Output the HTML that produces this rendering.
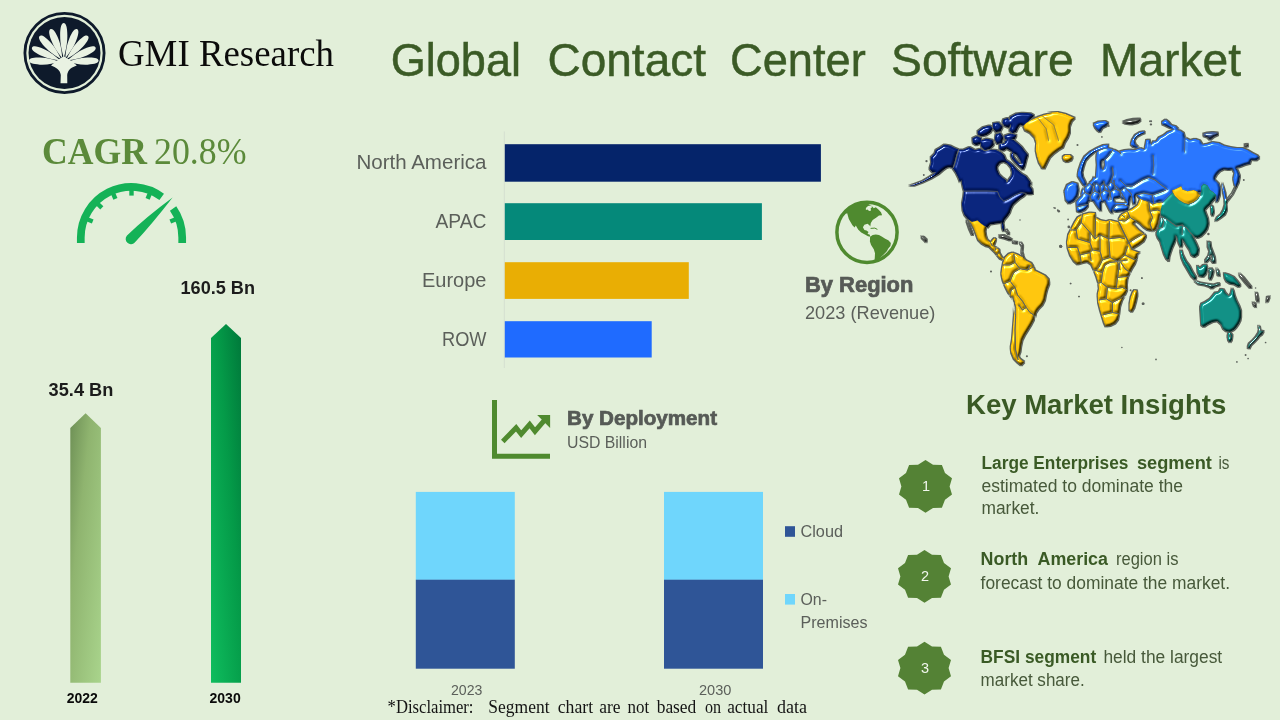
<!DOCTYPE html>
<html lang="en"><head><meta charset="utf-8"><title>Global Contact Center Software Market</title>
<style>
html,body{margin:0;padding:0;background:#e2efd9;}
body{width:1280px;height:720px;overflow:hidden;position:relative;}
svg{position:absolute;left:0;top:0;display:block;}
text{white-space:pre;}
</style></head><body>
<svg width="1280" height="720" viewBox="0 0 1280 720">
<defs>
<linearGradient id="g22" x1="0" y1="0" x2="1" y2="1" gradientUnits="objectBoundingBox">
<stop offset="0" stop-color="#6d8f55"/><stop offset="0.35" stop-color="#8fb46f"/><stop offset="1" stop-color="#a9d48c"/></linearGradient>
<linearGradient id="g30" x1="1" y1="0" x2="0" y2="1" gradientUnits="objectBoundingBox">
<stop offset="0" stop-color="#00783a"/><stop offset="0.4" stop-color="#049a48"/><stop offset="1" stop-color="#0fbd5e"/></linearGradient>
</defs>
<rect width="1280" height="720" fill="#e2efd9"/>

<g id="logo"><circle cx="64.5" cy="53" r="39.6" fill="none" stroke="#0e1a2b" stroke-width="2.8"/>
<circle cx="64.5" cy="53" r="36" fill="#0e1a2b"/>
<path d="M4.0,0 C11.7,-1.98 17.6,-3.6 26.5,-3.6 C35.1,-3.6 39.0,-2.16 39.0,0 C39.0,2.16 35.1,3.6 26.5,3.6 C17.6,3.6 11.7,1.98 4.0,0 Z" fill="#e9f2e2" transform="translate(63.8,62.0) rotate(-90.1)"/>
<path d="M4.0,0 C10.7,-1.98 16.0,-3.6 24.2,-3.6 C32.0,-3.6 35.5,-2.16 35.5,0 C35.5,2.16 32.0,3.6 24.2,3.6 C16.0,3.6 10.7,1.98 4.0,0 Z" fill="#e9f2e2" transform="translate(63.8,62.0) rotate(-68.2)"/>
<path d="M4.0,0 C10.7,-1.98 16.0,-3.6 24.2,-3.6 C32.0,-3.6 35.5,-2.16 35.5,0 C35.5,2.16 32.0,3.6 24.2,3.6 C16.0,3.6 10.7,1.98 4.0,0 Z" fill="#e9f2e2" transform="translate(63.8,62.0) rotate(-47.1)"/>
<path d="M4.0,0 C10.5,-1.98 15.7,-3.6 23.7,-3.6 C31.4,-3.6 34.9,-2.16 34.9,0 C34.9,2.16 31.4,3.6 23.7,3.6 C15.7,3.6 10.5,1.98 4.0,0 Z" fill="#e9f2e2" transform="translate(63.8,62.0) rotate(-24.4)"/>
<path d="M4.0,0 C10.4,-1.98 15.7,-3.6 23.7,-3.6 C31.3,-3.6 34.8,-2.16 34.8,0 C34.8,2.16 31.3,3.6 23.7,3.6 C15.7,3.6 10.4,1.98 4.0,0 Z" fill="#e9f2e2" transform="translate(63.8,62.0) rotate(-2.3)"/>
<path d="M4.0,0 C10.7,-1.98 16.0,-3.6 24.2,-3.6 C32.0,-3.6 35.5,-2.16 35.5,0 C35.5,2.16 32.0,3.6 24.2,3.6 C16.0,3.6 10.7,1.98 4.0,0 Z" fill="#e9f2e2" transform="translate(63.8,62.0) rotate(-111.8)"/>
<path d="M4.0,0 C10.7,-1.98 16.0,-3.6 24.2,-3.6 C32.0,-3.6 35.5,-2.16 35.5,0 C35.5,2.16 32.0,3.6 24.2,3.6 C16.0,3.6 10.7,1.98 4.0,0 Z" fill="#e9f2e2" transform="translate(63.8,62.0) rotate(-132.9)"/>
<path d="M4.0,0 C10.5,-1.98 15.7,-3.6 23.7,-3.6 C31.4,-3.6 34.9,-2.16 34.9,0 C34.9,2.16 31.4,3.6 23.7,3.6 C15.7,3.6 10.5,1.98 4.0,0 Z" fill="#e9f2e2" transform="translate(63.8,62.0) rotate(-155.6)"/>
<path d="M4.0,0 C10.4,-1.98 15.7,-3.6 23.7,-3.6 C31.3,-3.6 34.8,-2.16 34.8,0 C34.8,2.16 31.3,3.6 23.7,3.6 C15.7,3.6 10.4,1.98 4.0,0 Z" fill="#e9f2e2" transform="translate(63.8,62.0) rotate(-177.7)"/>
<path d="M60.5,83.3 L60.8,74.9 C60.2,69.6 55.9,67.3 51.0,65.4 L55.9,61.2 L63.8,56.3 L71.9,61.2 L76.8,65.4 C71.9,67.0 67.8,69.6 67.2,74.9 L67.3,83.3 Z" fill="#e9f2e2"/>
</g>
<text x="118.0" y="66.0" textLength="216.0" lengthAdjust="spacingAndGlyphs" font-family="'Liberation Serif', 'Times New Roman', serif" font-size="38" font-weight="400" fill="#0b0b0b" >GMI Research</text>
<text x="390.7" y="76.0" textLength="130.3" lengthAdjust="spacingAndGlyphs" font-family="'Liberation Sans', Arial, sans-serif" font-size="46.5" font-weight="400" fill="#3b5b26" stroke="#3b5b26" stroke-width="0.5">Global</text>
<text x="547.5" y="76.0" textLength="158.5" lengthAdjust="spacingAndGlyphs" font-family="'Liberation Sans', Arial, sans-serif" font-size="46.5" font-weight="400" fill="#3b5b26" stroke="#3b5b26" stroke-width="0.5">Contact</text>
<text x="730.0" y="76.0" textLength="135.7" lengthAdjust="spacingAndGlyphs" font-family="'Liberation Sans', Arial, sans-serif" font-size="46.5" font-weight="400" fill="#3b5b26" stroke="#3b5b26" stroke-width="0.5">Center</text>
<text x="891.0" y="76.0" textLength="182.7" lengthAdjust="spacingAndGlyphs" font-family="'Liberation Sans', Arial, sans-serif" font-size="46.5" font-weight="400" fill="#3b5b26" stroke="#3b5b26" stroke-width="0.5">Software</text>
<text x="1100.0" y="76.0" textLength="141.0" lengthAdjust="spacingAndGlyphs" font-family="'Liberation Sans', Arial, sans-serif" font-size="46.5" font-weight="400" fill="#3b5b26" stroke="#3b5b26" stroke-width="0.5">Market</text>
<text x="42.0" y="163.7" textLength="105.0" lengthAdjust="spacingAndGlyphs" font-family="'Liberation Serif', 'Times New Roman', serif" font-size="38.5" font-weight="700" fill="#5b8a3a" >CAGR</text>
<text x="154.0" y="163.7" textLength="92.5" lengthAdjust="spacingAndGlyphs" font-family="'Liberation Serif', 'Times New Roman', serif" font-size="38.5" font-weight="400" fill="#5b8a3a" >20.8%</text>
<path d="M80.8,243 L80.8,237.6 A50.75,50.75 0 0 1 161.7,196.8" fill="none" stroke="#14b257" stroke-width="7.7"/>
<path d="M173.1,208.5 A50.75,50.75 0 0 1 182.2,237.6 L182.2,243" fill="none" stroke="#14b257" stroke-width="7.7"/>
<line x1="87.2" y1="219.2" x2="92.7" y2="221.5" stroke="#14b257" stroke-width="4.4"/>
<line x1="97.6" y1="203.7" x2="101.8" y2="207.9" stroke="#14b257" stroke-width="4.4"/>
<line x1="113.1" y1="193.3" x2="115.4" y2="198.8" stroke="#14b257" stroke-width="4.4"/>
<line x1="131.5" y1="189.6" x2="131.5" y2="195.6" stroke="#14b257" stroke-width="4.4"/>
<line x1="149.9" y1="193.3" x2="147.6" y2="198.8" stroke="#14b257" stroke-width="4.4"/>
<line x1="175.8" y1="219.2" x2="170.3" y2="221.5" stroke="#14b257" stroke-width="4.4"/>
<path d="M172.6,197.4 Q152,224 134.8,242.4 A5,5 0 0 1 127,235.4 Q146,217 172.6,197.4 Z" fill="#14b257"/>
<polygon points="70.3,428 85.6,413.3 100.9,428 100.9,682.7 70.3,682.7" fill="url(#g22)"/>
<polygon points="211,338 226,324 241,338 241,682.7 211,682.7" fill="url(#g30)"/>
<text x="48.6" y="396.0" textLength="64.7" lengthAdjust="spacingAndGlyphs" font-family="'Liberation Sans', Arial, sans-serif" font-size="18" font-weight="700" fill="#1c1c1c" >35.4 Bn</text>
<text x="180.5" y="294.2" textLength="74.5" lengthAdjust="spacingAndGlyphs" font-family="'Liberation Sans', Arial, sans-serif" font-size="18" font-weight="700" fill="#1c1c1c" >160.5 Bn</text>
<text x="66.7" y="703.0" textLength="31.1" lengthAdjust="spacingAndGlyphs" font-family="'Liberation Sans', Arial, sans-serif" font-size="14.5" font-weight="700" fill="#0a0a0a" >2022</text>
<text x="209.5" y="703.0" textLength="31.2" lengthAdjust="spacingAndGlyphs" font-family="'Liberation Sans', Arial, sans-serif" font-size="14.5" font-weight="700" fill="#0a0a0a" >2030</text>
<line x1="504.3" y1="131.5" x2="504.3" y2="368" stroke="#d5dfd0" stroke-width="1"/>
<rect x="504.8" y="144.2" width="316.1" height="37.5" fill="#05246a"/>
<rect x="504.8" y="203.2" width="257.1" height="36.8" fill="#05897a"/>
<rect x="504.8" y="262.2" width="184.0" height="36.7" fill="#e9ae04"/>
<rect x="504.8" y="321.2" width="146.9" height="36.3" fill="#1f6bff"/>
<text x="356.4" y="169.2" textLength="130.1" lengthAdjust="spacingAndGlyphs" font-family="'Liberation Sans', Arial, sans-serif" font-size="20.5" font-weight="400" fill="#5b5f5a" >North America</text>
<text x="435.5" y="228.2" textLength="51.0" lengthAdjust="spacingAndGlyphs" font-family="'Liberation Sans', Arial, sans-serif" font-size="20.5" font-weight="400" fill="#5b5f5a" >APAC</text>
<text x="422.0" y="287.0" textLength="64.5" lengthAdjust="spacingAndGlyphs" font-family="'Liberation Sans', Arial, sans-serif" font-size="20.5" font-weight="400" fill="#5b5f5a" >Europe</text>
<text x="442.0" y="346.0" textLength="44.5" lengthAdjust="spacingAndGlyphs" font-family="'Liberation Sans', Arial, sans-serif" font-size="20.5" font-weight="400" fill="#5b5f5a" >ROW</text>
<circle cx="867" cy="232.3" r="30.1" fill="none" stroke="#4f8a2f" stroke-width="3.5"/>
<clipPath id="gclip"><circle cx="867" cy="232.3" r="30"/></clipPath>
<g clip-path="url(#gclip)" fill="#4f8a2f">
<polygon points="845.6,213.8 845.6,201.2 865.9,201.2 865.9,202.5 871.7,205.9 873.8,208.3 875.8,207.3 878.4,209.4 881.0,212.2 882.1,215.3 879.0,215.5 876.4,217.4 872.7,220.0 870.8,223.1 870.3,226.5 869.4,225.2 867.5,223.8 864.4,224.8 862.9,227.3 864.4,229.9 866.5,230.4 868.5,232.1 867.5,234.1 869.6,234.6 870.4,236.7 868.0,236.2 864.9,234.6 861.2,232.5 858.1,229.4 855.8,225.4 854.6,227.5 852.4,225.2 848.8,219.0 847.2,213.2"/>
<polygon points="865.9,208.0 868.0,205.9 871.1,205.4 872.2,207.0 870.6,208.5 871.1,210.6 869.1,211.1 867.5,209.6 865.9,210.1" fill="#e2efd9"/>
<polyline points="870.6,228.4 874.8,228.1 877.4,229.4" fill="none" stroke="#4f8a2f" stroke-width="1"/>
<polygon points="870.1,236.7 872.7,235.1 875.8,234.4 879.0,235.1 882.1,236.7 885.2,238.8 888.3,240.3 890.9,242.9 890.4,246.0 888.3,248.6 886.8,251.2 884.2,253.9 881.6,256.5 879.0,259.1 876.4,261.7 874.3,262.7 874.8,257.5 875.0,253.3 873.8,249.2 871.1,245.0 869.9,241.4"/>
</g>
<text x="805.0" y="291.5" textLength="108.4" lengthAdjust="spacingAndGlyphs" font-family="'Liberation Sans', Arial, sans-serif" font-size="21.5" font-weight="700" fill="#565a56" stroke="#565a56" stroke-width="0.7">By Region</text>
<text x="805.0" y="318.7" textLength="130.4" lengthAdjust="spacingAndGlyphs" font-family="'Liberation Sans', Arial, sans-serif" font-size="18.5" font-weight="400" fill="#5b5f5a" >2023 (Revenue)</text>
<path d="M494.5,400 V456.2 H550" fill="none" stroke="#4f8a2f" stroke-width="5"/>
<path d="M502.8,441.4 L516.1,427.8 L521.2,434.2 L529.7,424.4 L535,431.2 L545,419.6" fill="none" stroke="#4f8a2f" stroke-width="5"/>
<polygon points="537.2,415 550.1,415 550.1,427.9" fill="#4f8a2f"/>
<text x="567.0" y="425.0" textLength="150.0" lengthAdjust="spacingAndGlyphs" font-family="'Liberation Sans', Arial, sans-serif" font-size="19.5" font-weight="700" fill="#565a56" stroke="#565a56" stroke-width="0.7">By Deployment</text>
<text x="567.0" y="448.0" textLength="80.0" lengthAdjust="spacingAndGlyphs" font-family="'Liberation Sans', Arial, sans-serif" font-size="16" font-weight="400" fill="#5b5f5a" >USD Billion</text>
<rect x="415.8" y="491.9" width="99" height="88" fill="#6fd6fc"/>
<rect x="415.8" y="579.7" width="99" height="89" fill="#2f5597"/>
<rect x="664" y="491.9" width="99" height="88" fill="#6fd6fc"/>
<rect x="664" y="579.7" width="99" height="89" fill="#2f5597"/>
<text x="451.0" y="694.7" textLength="31.4" lengthAdjust="spacingAndGlyphs" font-family="'Liberation Sans', Arial, sans-serif" font-size="14.5" font-weight="400" fill="#5b5f5a" >2023</text>
<text x="699.0" y="694.7" textLength="32.4" lengthAdjust="spacingAndGlyphs" font-family="'Liberation Sans', Arial, sans-serif" font-size="14.5" font-weight="400" fill="#5b5f5a" >2030</text>
<rect x="785" y="526.2" width="10" height="10.6" fill="#2f5597"/>
<rect x="785" y="594" width="10" height="10.6" fill="#6fd6fc"/>
<text x="800.5" y="537.0" textLength="42.5" lengthAdjust="spacingAndGlyphs" font-family="'Liberation Sans', Arial, sans-serif" font-size="17" font-weight="400" fill="#5b5f5a" >Cloud</text>
<text x="800.5" y="605.3" textLength="26.5" lengthAdjust="spacingAndGlyphs" font-family="'Liberation Sans', Arial, sans-serif" font-size="17" font-weight="400" fill="#5b5f5a" >On-</text>
<text x="800.5" y="627.6" textLength="67.0" lengthAdjust="spacingAndGlyphs" font-family="'Liberation Sans', Arial, sans-serif" font-size="17" font-weight="400" fill="#5b5f5a" >Premises</text>
<text x="387.6" y="713.0" textLength="85.9" lengthAdjust="spacingAndGlyphs" font-family="'Liberation Serif', 'Times New Roman', serif" font-size="18" font-weight="400" fill="#141414" >*Disclaimer:</text>
<text x="488.3" y="713.0" textLength="61.2" lengthAdjust="spacingAndGlyphs" font-family="'Liberation Serif', 'Times New Roman', serif" font-size="18" font-weight="400" fill="#141414" >Segment</text>
<text x="557.7" y="713.0" textLength="35.4" lengthAdjust="spacingAndGlyphs" font-family="'Liberation Serif', 'Times New Roman', serif" font-size="18" font-weight="400" fill="#141414" >chart</text>
<text x="599.3" y="713.0" textLength="21.3" lengthAdjust="spacingAndGlyphs" font-family="'Liberation Serif', 'Times New Roman', serif" font-size="18" font-weight="400" fill="#141414" >are</text>
<text x="627.5" y="713.0" textLength="21.7" lengthAdjust="spacingAndGlyphs" font-family="'Liberation Serif', 'Times New Roman', serif" font-size="18" font-weight="400" fill="#141414" >not</text>
<text x="656.7" y="713.0" textLength="39.6" lengthAdjust="spacingAndGlyphs" font-family="'Liberation Serif', 'Times New Roman', serif" font-size="18" font-weight="400" fill="#141414" >based</text>
<text x="704.9" y="713.0" textLength="16.1" lengthAdjust="spacingAndGlyphs" font-family="'Liberation Serif', 'Times New Roman', serif" font-size="18" font-weight="400" fill="#141414" >on</text>
<text x="727.2" y="713.0" textLength="41.2" lengthAdjust="spacingAndGlyphs" font-family="'Liberation Serif', 'Times New Roman', serif" font-size="18" font-weight="400" fill="#141414" >actual</text>
<text x="777.0" y="713.0" textLength="30.0" lengthAdjust="spacingAndGlyphs" font-family="'Liberation Serif', 'Times New Roman', serif" font-size="18" font-weight="400" fill="#141414" >data</text>
<text x="966.0" y="413.8" textLength="260.2" lengthAdjust="spacingAndGlyphs" font-family="'Liberation Sans', Arial, sans-serif" font-size="27" font-weight="700" fill="#3a5a25" >Key Market Insights</text>
<polygon points="925.5,460.0 933.0,464.7 941.9,465.0 945.0,473.0 952.0,478.2 949.6,486.4 952.0,494.6 945.0,499.8 941.9,507.8 933.0,508.1 925.5,512.8 918.0,508.1 909.1,507.8 906.0,499.8 899.0,494.6 901.4,486.4 899.0,478.2 906.0,473.0 909.1,465.0 918.0,464.7" fill="#548235"/>
<text x="921.9" y="491.0" font-family="'Liberation Sans', Arial, sans-serif" font-size="14.5" font-weight="400" fill="#f2f7ee" >1</text>
<polygon points="924.5,550.0 932.0,554.7 940.9,555.0 944.0,563.0 951.0,568.2 948.6,576.4 951.0,584.6 944.0,589.8 940.9,597.8 932.0,598.1 924.5,602.8 917.0,598.1 908.1,597.8 905.0,589.8 898.0,584.6 900.4,576.4 898.0,568.2 905.0,563.0 908.1,555.0 917.0,554.7" fill="#548235"/>
<text x="920.9" y="581.0" font-family="'Liberation Sans', Arial, sans-serif" font-size="14.5" font-weight="400" fill="#f2f7ee" >2</text>
<polygon points="924.5,641.7 932.0,646.4 940.9,646.7 944.0,654.7 951.0,659.9 948.6,668.1 951.0,676.3 944.0,681.5 940.9,689.5 932.0,689.8 924.5,694.5 917.0,689.8 908.1,689.5 905.0,681.5 898.0,676.3 900.4,668.1 898.0,659.9 905.0,654.7 908.1,646.7 917.0,646.4" fill="#548235"/>
<text x="920.9" y="672.7" font-family="'Liberation Sans', Arial, sans-serif" font-size="14.5" font-weight="400" fill="#f2f7ee" >3</text>
<text x="981.5" y="469.0" textLength="146.9" lengthAdjust="spacingAndGlyphs" font-family="'Liberation Sans', Arial, sans-serif" font-size="17.5" font-weight="700" fill="#3a5a25" >Large Enterprises</text>
<text x="1136.9" y="469.0" textLength="75.0" lengthAdjust="spacingAndGlyphs" font-family="'Liberation Sans', Arial, sans-serif" font-size="17.5" font-weight="700" fill="#3a5a25" >segment</text>
<text x="1218.4" y="469.0" textLength="11.0" lengthAdjust="spacingAndGlyphs" font-family="'Liberation Sans', Arial, sans-serif" font-size="17.5" font-weight="400" fill="#47593a" >is</text>
<text x="981.5" y="491.9" textLength="201.5" lengthAdjust="spacingAndGlyphs" font-family="'Liberation Sans', Arial, sans-serif" font-size="17.5" font-weight="400" fill="#47593a" >estimated to dominate the</text>
<text x="981.5" y="513.8" textLength="57.9" lengthAdjust="spacingAndGlyphs" font-family="'Liberation Sans', Arial, sans-serif" font-size="17.5" font-weight="400" fill="#47593a" >market.</text>
<text x="980.6" y="565.3" textLength="127.4" lengthAdjust="spacingAndGlyphs" font-family="'Liberation Sans', Arial, sans-serif" font-size="17.5" font-weight="700" fill="#3a5a25" >North  America</text>
<text x="1116.0" y="565.3" textLength="62.4" lengthAdjust="spacingAndGlyphs" font-family="'Liberation Sans', Arial, sans-serif" font-size="17.5" font-weight="400" fill="#47593a" >region is</text>
<text x="980.6" y="588.8" textLength="249.4" lengthAdjust="spacingAndGlyphs" font-family="'Liberation Sans', Arial, sans-serif" font-size="17.5" font-weight="400" fill="#47593a" >forecast to dominate the market.</text>
<text x="980.6" y="663.4" textLength="115.6" lengthAdjust="spacingAndGlyphs" font-family="'Liberation Sans', Arial, sans-serif" font-size="17.5" font-weight="700" fill="#3a5a25" >BFSI segment</text>
<text x="1103.4" y="663.4" textLength="118.8" lengthAdjust="spacingAndGlyphs" font-family="'Liberation Sans', Arial, sans-serif" font-size="17.5" font-weight="400" fill="#47593a" >held the largest</text>
<text x="980.6" y="686.2" textLength="104.1" lengthAdjust="spacingAndGlyphs" font-family="'Liberation Sans', Arial, sans-serif" font-size="17.5" font-weight="400" fill="#47593a" >market share.</text>
<filter id="bev" x="-3%" y="-3%" width="106%" height="106%" color-interpolation-filters="sRGB">
<feMorphology in="SourceAlpha" operator="dilate" radius="0.7" result="dil"/>
<feFlood flood-color="#5d625c" result="fl"/>
<feComposite in="fl" in2="dil" operator="in" result="outline"/>
<feGaussianBlur in="SourceAlpha" stdDeviation="1.1" result="blur"/>
<feDiffuseLighting in="blur" surfaceScale="2.8" diffuseConstant="1.5" lighting-color="#ffffff" result="diff"><feDistantLight azimuth="235" elevation="40"/></feDiffuseLighting>
<feComposite in="SourceGraphic" in2="diff" operator="arithmetic" k1="0.72" k2="0.3" k3="0" k4="0" result="lit"/>
<feSpecularLighting in="blur" surfaceScale="2.8" specularConstant="0.9" specularExponent="36" lighting-color="#ffffff" result="spec"><feDistantLight azimuth="235" elevation="40"/></feSpecularLighting>
<feComposite in="spec" in2="SourceAlpha" operator="in" result="specIn"/>
<feComposite in="specIn" in2="lit" operator="arithmetic" k1="0" k2="1" k3="1" k4="0" result="shaded"/>
<feComposite in="shaded" in2="SourceAlpha" operator="in" result="shadedIn"/>
<feMerge><feMergeNode in="outline"/><feMergeNode in="shadedIn"/></feMerge>
</filter>
<mask id="mborders" maskUnits="userSpaceOnUse" x="895" y="95" width="385" height="290"><rect x="895" y="95" width="385" height="290" fill="#fff"/><polygon points="997.5,166.2 1000.0,163.1 1003.8,161.9 1007.5,163.8 1010.6,167.5 1011.9,172.5 1011.2,176.2 1008.8,179.4 1006.9,182.8 1006.0,180.0 1002.5,177.5 999.4,174.4 997.5,170.0" fill="#000"/><polygon points="1013.1,153.1 1016.9,155.0 1020.0,160.0 1021.9,164.4 1019.4,163.1 1016.2,160.0 1014.0,156.9" fill="#000"/><polyline points="958.8,149.4 956.9,155.0 955.0,162.5 953.1,168.1" fill="none" stroke="#000" stroke-width="1.0" stroke-linejoin="round"/><polyline points="963.8,191.2 975.0,191.0 987.5,191.0 997.5,191.5 1000.0,197.5 1003.8,201.2 1008.8,198.8 1015.0,195.0 1021.2,192.5 1026.2,193.5" fill="none" stroke="#000" stroke-width="0.5" stroke-linejoin="round"/><polygon points="1113.8,198.8 1120.0,197.5 1125.0,200.0 1127.5,203.1 1121.2,203.1 1115.0,202.5" fill="#000"/><polygon points="1101.8,160.8 1104.2,160.4 1104.7,165.0 1103.8,169.3 1102.1,169.8 1101.4,165.0" fill="#000"/><polyline points="1120.0,180.0 1126.2,186.2 1132.5,186.2 1142.5,180.0 1148.8,177.5 1155.0,180.0 1161.2,185.0 1167.5,189.4" fill="none" stroke="#000" stroke-width="0.9" stroke-linejoin="round"/><polygon points="1209.0,255.6 1211.9,255.0 1212.8,260.0 1210.2,258.8" fill="#000"/><polygon points="1229.2,335.0 1230.8,334.8 1231.0,337.5 1229.8,338.1" fill="#000"/><polyline points="1118.8,221.9 1122.5,230.0 1126.2,237.5 1130.0,245.0 1132.5,250.0" fill="none" stroke="#000" stroke-width="1.1" stroke-linejoin="round"/><polyline points="1082.5,214.4 1081.2,222.5 1076.2,230.0 1071.2,230.0" fill="none" stroke="#000" stroke-width="0.9" stroke-linejoin="round"/><polyline points="1081.2,222.5 1090.0,232.5 1095.0,238.8 1095.6,217.5" fill="none" stroke="#000" stroke-width="0.9" stroke-linejoin="round"/><polyline points="1095.0,238.8 1100.0,235.0 1108.8,238.8 1109.4,221.2" fill="none" stroke="#000" stroke-width="0.9" stroke-linejoin="round"/><polyline points="1108.8,238.8 1120.0,237.5 1125.0,238.8" fill="none" stroke="#000" stroke-width="0.9" stroke-linejoin="round"/><polyline points="1076.2,230.0 1077.5,238.8 1090.0,242.5 1090.0,232.5" fill="none" stroke="#000" stroke-width="0.9" stroke-linejoin="round"/><polyline points="1090.0,242.5 1092.5,250.0 1100.0,251.2 1100.0,235.0" fill="none" stroke="#000" stroke-width="0.9" stroke-linejoin="round"/><polyline points="1100.0,251.2 1102.5,260.0 1110.0,257.5 1108.8,238.8" fill="none" stroke="#000" stroke-width="0.9" stroke-linejoin="round"/><polyline points="1110.0,257.5 1117.5,261.2 1125.0,255.0 1127.5,246.2" fill="none" stroke="#000" stroke-width="0.9" stroke-linejoin="round"/><polyline points="1068.1,247.5 1077.5,247.5 1080.0,255.0 1090.0,252.5 1092.5,250.0" fill="none" stroke="#000" stroke-width="0.9" stroke-linejoin="round"/><polyline points="1080.0,255.0 1081.2,262.5" fill="none" stroke="#000" stroke-width="0.9" stroke-linejoin="round"/><polyline points="1090.0,252.5 1091.2,261.2" fill="none" stroke="#000" stroke-width="0.9" stroke-linejoin="round"/><polyline points="1102.5,260.0 1098.8,267.5 1096.2,270.0" fill="none" stroke="#000" stroke-width="0.9" stroke-linejoin="round"/><polyline points="1117.5,261.2 1120.0,270.0" fill="none" stroke="#000" stroke-width="0.9" stroke-linejoin="round"/><polyline points="1125.0,255.0 1135.0,260.0 1137.5,257.5" fill="none" stroke="#000" stroke-width="0.9" stroke-linejoin="round"/><polyline points="1093.8,270.0 1102.5,272.5 1105.0,265.0 1110.0,262.5 1120.0,261.2 1127.5,260.0" fill="none" stroke="#000" stroke-width="0.9" stroke-linejoin="round"/><polyline points="1102.5,272.5 1101.2,282.5 1107.5,287.5 1116.2,288.8 1117.5,277.5 1120.0,261.2" fill="none" stroke="#000" stroke-width="0.9" stroke-linejoin="round"/><polyline points="1101.2,282.5 1098.1,283.1" fill="none" stroke="#000" stroke-width="0.9" stroke-linejoin="round"/><polyline points="1107.5,287.5 1106.2,298.8 1098.8,300.0" fill="none" stroke="#000" stroke-width="0.9" stroke-linejoin="round"/><polyline points="1106.2,298.8 1112.5,302.5 1120.0,298.8 1125.0,295.0" fill="none" stroke="#000" stroke-width="0.9" stroke-linejoin="round"/><polyline points="1112.5,302.5 1112.5,312.5 1102.5,315.0" fill="none" stroke="#000" stroke-width="0.9" stroke-linejoin="round"/><polyline points="1112.5,312.5 1118.8,313.8" fill="none" stroke="#000" stroke-width="0.9" stroke-linejoin="round"/><polyline points="1116.2,288.8 1122.5,287.5 1127.5,290.0" fill="none" stroke="#000" stroke-width="0.9" stroke-linejoin="round"/><polyline points="1117.5,277.5 1128.8,276.2" fill="none" stroke="#000" stroke-width="0.9" stroke-linejoin="round"/><polyline points="1120.0,261.2 1125.0,268.8 1130.0,272.5" fill="none" stroke="#000" stroke-width="0.9" stroke-linejoin="round"/><polyline points="1013.8,253.8 1015.0,262.5 1020.0,268.8 1027.5,270.0 1033.8,266.9" fill="none" stroke="#000" stroke-width="0.9" stroke-linejoin="round"/><polyline points="1015.0,262.5 1010.0,265.0 1003.1,265.0" fill="none" stroke="#000" stroke-width="0.9" stroke-linejoin="round"/><polyline points="1020.0,268.8 1013.8,272.5 1010.0,281.2 1015.0,287.5 1017.5,295.0 1022.5,301.2 1026.2,307.5 1030.0,312.5 1033.8,315.0" fill="none" stroke="#000" stroke-width="0.9" stroke-linejoin="round"/><polyline points="1010.0,281.2 1003.8,283.8" fill="none" stroke="#000" stroke-width="0.9" stroke-linejoin="round"/><polyline points="1015.0,287.5 1011.2,290.0 1010.0,295.0" fill="none" stroke="#000" stroke-width="0.9" stroke-linejoin="round"/><polyline points="1012.5,296.2 1015.6,307.5 1015.6,317.5 1015.0,330.0 1015.0,330.0 1015.6,350.0 1018.1,360.0" fill="none" stroke="#000" stroke-width="0.9" stroke-linejoin="round"/><polyline points="1026.2,307.5 1022.5,310.0 1018.8,305.0" fill="none" stroke="#000" stroke-width="0.9" stroke-linejoin="round"/><polyline points="1033.8,315.0 1035.0,320.0" fill="none" stroke="#000" stroke-width="0.9" stroke-linejoin="round"/><polyline points="1027.5,270.0 1030.0,265.0" fill="none" stroke="#000" stroke-width="0.9" stroke-linejoin="round"/><polyline points="990.6,242.5 992.5,246.2" fill="none" stroke="#000" stroke-width="0.9" stroke-linejoin="round"/><polyline points="996.2,247.5 995.0,250.6" fill="none" stroke="#000" stroke-width="0.9" stroke-linejoin="round"/><polyline points="996.9,255.0 998.8,252.5" fill="none" stroke="#000" stroke-width="0.9" stroke-linejoin="round"/><polyline points="1081.2,196.2 1085.0,192.5 1090.0,195.0 1095.0,191.2 1100.0,193.8 1105.0,190.0 1110.0,192.5 1115.0,188.8 1120.0,191.2 1125.0,187.5 1130.0,192.5 1131.9,195.0" fill="none" stroke="#000" stroke-width="0.9" stroke-linejoin="round"/><polyline points="1090.0,195.0 1091.2,200.6" fill="none" stroke="#000" stroke-width="0.9" stroke-linejoin="round"/><polyline points="1095.0,191.2 1093.8,182.5" fill="none" stroke="#000" stroke-width="0.9" stroke-linejoin="round"/><polyline points="1100.0,193.8 1102.5,201.2" fill="none" stroke="#000" stroke-width="0.9" stroke-linejoin="round"/><polyline points="1105.0,190.0 1103.8,181.2" fill="none" stroke="#000" stroke-width="0.9" stroke-linejoin="round"/><polyline points="1110.0,192.5 1111.2,200.0" fill="none" stroke="#000" stroke-width="0.9" stroke-linejoin="round"/><polyline points="1115.0,188.8 1113.8,180.0" fill="none" stroke="#000" stroke-width="0.9" stroke-linejoin="round"/><polyline points="1120.0,191.2 1121.2,197.5" fill="none" stroke="#000" stroke-width="0.9" stroke-linejoin="round"/><polyline points="1085.0,192.5 1083.8,187.5" fill="none" stroke="#000" stroke-width="0.9" stroke-linejoin="round"/><polyline points="1081.2,196.2 1077.5,198.8" fill="none" stroke="#000" stroke-width="0.9" stroke-linejoin="round"/><polyline points="1076.9,206.9 1082.5,205.6 1088.1,204.4" fill="none" stroke="#000" stroke-width="0.9" stroke-linejoin="round"/><polyline points="1089.2,182.9 1093.3,186.7 1096.7,183.3 1100.0,186.7 1103.3,183.3 1107.5,186.7 1110.8,181.7 1113.3,175.0 1112.5,167.5" fill="none" stroke="#000" stroke-width="0.9" stroke-linejoin="round"/><polyline points="1093.3,186.7 1091.7,193.3 1089.2,200.0" fill="none" stroke="#000" stroke-width="0.9" stroke-linejoin="round"/><polyline points="1100.0,186.7 1100.8,193.3 1098.3,200.0" fill="none" stroke="#000" stroke-width="0.9" stroke-linejoin="round"/><polyline points="1107.5,186.7 1110.0,193.3 1108.3,200.0" fill="none" stroke="#000" stroke-width="0.9" stroke-linejoin="round"/><polyline points="1110.8,181.7 1116.7,186.7 1121.7,193.3 1125.0,200.0" fill="none" stroke="#000" stroke-width="0.9" stroke-linejoin="round"/><polyline points="1096.2,165.0 1090.0,160.8" fill="none" stroke="#000" stroke-width="0.9" stroke-linejoin="round"/><polyline points="1104.2,160.4 1108.3,156.7 1113.3,149.2" fill="none" stroke="#000" stroke-width="0.9" stroke-linejoin="round"/><polyline points="1112.5,210.0 1116.2,205.0 1122.5,204.4 1128.8,206.2" fill="none" stroke="#000" stroke-width="0.9" stroke-linejoin="round"/><polyline points="1127.5,211.2 1130.0,217.5 1136.2,221.2" fill="none" stroke="#000" stroke-width="0.9" stroke-linejoin="round"/><polyline points="1118.1,220.0 1125.0,221.2 1130.0,217.5" fill="none" stroke="#000" stroke-width="0.9" stroke-linejoin="round"/><polyline points="1127.5,243.8 1135.0,238.8 1143.8,233.8" fill="none" stroke="#000" stroke-width="0.9" stroke-linejoin="round"/><polyline points="1148.8,201.9 1150.0,211.2 1152.5,217.5 1150.0,223.8 1152.5,231.2" fill="none" stroke="#000" stroke-width="0.9" stroke-linejoin="round"/><polyline points="1150.0,211.2 1157.5,210.0 1160.6,211.2" fill="none" stroke="#000" stroke-width="0.9" stroke-linejoin="round"/><polyline points="1121.2,214.4 1125.0,217.5" fill="none" stroke="#000" stroke-width="0.9" stroke-linejoin="round"/><polyline points="1136.2,195.0 1143.8,193.1 1152.5,195.0 1160.0,192.5 1166.2,190.0" fill="none" stroke="#000" stroke-width="0.9" stroke-linejoin="round"/><polyline points="1152.5,195.0 1153.8,203.8" fill="none" stroke="#000" stroke-width="0.9" stroke-linejoin="round"/><polyline points="1161.2,216.2 1166.2,218.8 1171.2,222.5 1176.2,226.2 1182.5,225.0 1187.5,228.8 1190.0,232.5 1193.8,236.2" fill="none" stroke="#000" stroke-width="0.9" stroke-linejoin="round"/><polyline points="1182.5,225.0 1182.1,235.0" fill="none" stroke="#000" stroke-width="0.6" stroke-linejoin="round"/><polyline points="1158.1,228.8 1162.5,227.5 1163.8,221.2 1161.2,216.2" fill="none" stroke="#000" stroke-width="0.9" stroke-linejoin="round"/><polyline points="1153.1,155.0 1153.8,165.0 1152.8,175.0" fill="none" stroke="#000" stroke-width="0.6" stroke-linejoin="round"/><polyline points="1185.0,137.5 1184.4,152.5" fill="none" stroke="#000" stroke-width="0.5" stroke-linejoin="round"/><polyline points="1042.5,116.2 1053.8,125.0 1058.8,141.2" fill="none" stroke="#000" stroke-width="0.4" stroke-linejoin="round"/><polyline points="1037.5,117.5 1046.2,128.8 1048.8,141.2" fill="none" stroke="#000" stroke-width="0.4" stroke-linejoin="round"/></mask>
<g id="map" filter="url(#bev)"><g mask="url(#mborders)"><polygon points="929.4,168.8 931.2,162.5 930.6,157.5 934.4,153.8 935.6,150.0 940.0,147.5 944.4,144.4 950.0,145.6 955.0,148.1 958.8,149.4 963.8,149.4 969.4,146.9 975.0,150.0 980.0,148.8 985.0,151.2 991.2,149.4 996.2,150.0 1001.2,152.5 1004.4,155.6 1006.2,160.0 1010.0,162.5 1013.1,165.0 1017.5,170.0 1021.9,173.8 1026.2,176.2 1030.0,181.2 1031.9,186.2 1031.2,182.5 1030.0,186.2 1032.5,189.4 1033.1,193.8 1030.0,194.4 1026.2,193.8 1023.8,196.2 1020.0,198.8 1016.2,201.9 1013.1,205.0 1011.2,208.8 1010.0,212.5 1007.5,216.2 1004.4,220.0 1003.5,223.1 1004.5,229.4 1003.2,231.5 1001.9,227.5 1001.5,222.5 1000.0,223.1 995.0,223.8 990.0,224.4 987.5,227.8 986.2,227.0 981.2,223.8 977.5,220.6 971.9,221.9 967.5,218.8 964.4,215.0 962.5,210.0 961.9,203.8 963.1,197.5 963.8,191.2 962.5,186.2 961.2,180.0 960.0,182.5 958.1,177.5 955.6,172.5 952.5,168.1 949.4,166.9 946.2,168.1 943.1,170.2 938.8,174.0 931.2,178.4 922.5,182.5 913.8,185.8 908.8,185.8 913.8,184.2 922.5,180.9 930.0,176.4 936.2,172.2 932.5,172.5" fill="#041f78"/>
<polygon points="1005.0,141.2 1008.8,138.8 1013.8,140.0 1017.5,143.1 1021.9,146.9 1025.0,151.2 1028.1,155.0 1026.9,158.8 1025.0,166.2 1023.1,170.0 1018.8,166.2 1015.0,162.5 1011.9,158.8 1010.6,155.0 1012.5,152.5 1011.2,151.2 1006.9,148.8 1005.0,145.0" fill="#041f78"/>
<polygon points="1010.6,117.5 1016.2,114.4 1022.5,113.5 1030.0,114.0 1033.1,115.6 1030.0,118.8 1026.2,122.5 1023.1,125.0 1020.0,123.8 1017.5,126.9 1015.6,131.2 1012.5,132.5 1010.0,130.0 1011.9,126.2 1010.0,121.9" fill="#041f78" stroke="#041f78" stroke-width="1.6" stroke-linejoin="round"/>
<polygon points="1003.8,120.0 1007.5,118.8 1010.0,122.5 1008.8,126.9 1005.0,125.6 1003.1,122.5" fill="#041f78" stroke="#041f78" stroke-width="1.6" stroke-linejoin="round"/>
<polygon points="1005.0,136.2 1010.0,134.4 1015.6,135.6 1014.4,138.1 1008.8,139.4 1005.6,138.8" fill="#041f78" stroke="#041f78" stroke-width="1.6" stroke-linejoin="round"/>
<polygon points="978.1,131.9 983.1,128.1 989.4,126.2 991.9,128.1 990.0,131.9 986.2,134.4 981.9,135.6 978.8,134.4" fill="#041f78" stroke="#041f78" stroke-width="1.6" stroke-linejoin="round"/>
<polygon points="993.8,123.8 998.1,123.1 1001.9,126.9 1000.0,130.6 996.2,131.2 993.8,128.1" fill="#041f78" stroke="#041f78" stroke-width="1.6" stroke-linejoin="round"/>
<polygon points="973.1,138.8 976.9,136.9 980.6,138.8 980.0,143.1 976.2,144.4 973.5,142.5" fill="#041f78" stroke="#041f78" stroke-width="1.6" stroke-linejoin="round"/>
<polygon points="981.2,141.2 986.2,139.4 991.9,140.6 993.1,144.4 990.0,148.1 985.0,149.4 981.9,146.2" fill="#041f78" stroke="#041f78" stroke-width="1.6" stroke-linejoin="round"/>
<polygon points="996.2,135.0 1000.0,133.8 1002.5,137.5 1001.2,142.5 997.5,143.1 995.6,139.4" fill="#041f78" stroke="#041f78" stroke-width="1.6" stroke-linejoin="round"/>
<polygon points="1000.0,145.0 1004.4,143.8 1006.2,148.1 1003.1,150.0 1000.0,148.8" fill="#041f78" stroke="#041f78" stroke-width="1.6" stroke-linejoin="round"/>
<polygon points="921.2,236.2 923.8,236.9 926.9,240.0 926.2,242.5 924.4,240.6 921.9,238.1" fill="#5d625c"/>
<polygon points="1023.1,126.2 1026.2,123.1 1031.2,120.0 1037.5,116.9 1045.0,114.4 1052.5,113.1 1047.5,112.5 1057.5,111.9 1065.0,113.8 1075.0,118.1 1071.9,121.2 1070.0,126.2 1070.0,132.5 1068.1,137.5 1065.0,142.5 1063.1,147.5 1058.8,150.0 1053.8,153.8 1050.0,157.5 1046.9,163.8 1044.4,168.8 1041.2,168.1 1041.9,167.5 1038.8,162.5 1036.9,156.2 1035.6,150.0 1036.2,143.1 1034.4,137.5 1030.0,133.1 1025.0,130.6" fill="#fbc108"/>
<polygon points="1062.5,156.9 1065.0,155.0 1070.0,155.0 1072.8,157.5 1071.2,160.6 1066.9,162.2 1063.8,160.6" fill="#fbc108"/>
<polygon points="968.1,219.4 971.9,221.9 977.5,220.6 981.2,223.8 986.2,227.2 985.6,231.2 986.2,236.2 987.5,240.0 990.6,242.5 992.5,240.0 994.4,238.1 996.2,239.4 995.0,243.1 993.8,246.2 996.2,247.5 999.4,250.0 1000.0,253.8 1001.9,256.9 1003.8,258.8 1004.4,258.8 1003.1,260.0 1000.0,258.8 996.9,255.0 995.0,252.5 991.9,249.4 989.4,246.9 986.2,246.2 981.9,243.8 978.1,240.0 976.2,235.0 973.8,228.8 971.2,223.8" fill="#fbc108"/>
<polygon points="966.2,220.6 968.1,221.2 970.6,228.1 973.1,235.0 971.9,235.0 969.0,228.8" fill="#5d625c"/>
<polygon points="998.8,235.6 1003.8,235.0 1008.8,237.5 1012.5,240.0 1010.0,240.6 1005.0,238.8 1000.0,237.5" fill="#5d625c"/>
<polygon points="1012.5,241.2 1017.5,241.9 1016.9,243.8 1013.1,243.1" fill="#5d625c"/>
<polyline points="1020.6,243.1 1022.5,246.2 1021.9,252.5 1023.1,256.2 1022.5,255.0 1023.8,258.8" fill="none" stroke="#5d625c" stroke-width="1.3" stroke-linecap="round"/>
<polyline points="1006.2,230.0 1008.8,233.8" fill="none" stroke="#5d625c" stroke-width="1.2" stroke-linecap="round"/>
<polygon points="1005.0,257.5 1008.8,253.8 1012.5,252.5 1017.5,254.4 1022.5,256.9 1026.2,260.6 1031.2,263.1 1033.8,266.9 1035.0,270.6 1040.0,273.1 1045.0,275.6 1048.8,279.4 1049.4,283.8 1047.5,288.8 1046.2,293.8 1045.0,300.0 1042.5,305.0 1038.8,308.8 1036.2,312.5 1035.0,317.5 1032.5,321.2 1030.0,325.0 1036.2,313.8 1033.8,320.0 1031.2,325.0 1028.1,330.0 1025.0,335.0 1022.5,340.0 1021.2,346.2 1020.6,351.2 1018.8,356.2 1020.0,358.8 1024.4,361.9 1021.2,365.6 1017.5,362.5 1013.8,358.8 1011.2,352.5 1010.6,347.5 1011.9,340.0 1012.5,332.5 1013.1,325.0 1013.8,316.2 1013.8,307.5 1014.4,315.0 1015.0,307.5 1014.4,301.2 1011.9,297.5 1008.1,292.5 1005.0,286.2 1002.5,280.0 1001.2,273.8 1001.9,268.8 1003.1,262.5" fill="#fbc108"/>
<polygon points="1081.7,200.0 1080.8,196.7 1081.7,191.7 1083.3,188.3 1086.7,186.7 1089.2,182.9 1092.5,180.0 1093.8,176.7 1095.8,178.5 1096.2,171.7 1096.7,165.0 1096.2,158.3 1096.7,152.5 1100.0,150.4 1104.2,148.8 1108.3,147.9 1113.3,149.2 1118.3,151.7 1121.7,155.0 1120.0,151.2 1125.0,150.0 1130.0,149.4 1135.0,150.0 1140.0,148.1 1144.4,149.4 1146.2,140.0 1149.4,139.4 1151.2,145.0 1153.1,141.2 1156.2,141.2 1158.8,137.5 1163.8,135.0 1167.5,131.9 1172.5,130.0 1175.0,129.4 1180.0,130.6 1183.8,133.1 1185.0,137.5 1190.0,140.0 1195.0,138.8 1200.0,140.6 1202.5,144.4 1207.5,143.8 1212.5,141.9 1218.8,143.1 1223.8,145.6 1230.0,146.9 1236.2,148.1 1242.5,148.1 1247.5,150.0 1252.5,153.1 1257.5,155.6 1259.4,158.1 1256.2,160.6 1251.2,160.0 1250.0,163.8 1245.0,165.0 1240.0,166.9 1236.2,168.1 1238.1,171.2 1240.0,176.2 1238.8,182.5 1236.2,187.5 1234.4,185.0 1233.1,178.8 1234.4,173.1 1232.5,169.4 1228.8,170.0 1223.8,169.4 1220.0,171.2 1216.9,174.4 1215.0,178.1 1215.0,180.0 1218.8,183.8 1220.6,188.8 1220.0,195.0 1218.1,200.6 1216.2,202.5 1216.2,195.6 1213.8,192.5 1210.0,190.0 1207.5,185.6 1203.8,183.8 1201.2,186.2 1201.2,191.9 1198.1,191.9 1193.8,190.0 1187.5,191.2 1182.5,189.4 1181.2,186.2 1176.2,188.8 1171.9,190.6 1172.5,192.5 1170.0,195.0 1166.2,198.8 1163.1,201.9 1160.0,201.2 1156.2,202.5 1152.5,203.8 1148.8,201.2 1143.8,200.0 1140.0,198.8 1136.2,195.0 1135.0,196.2 1135.6,202.5 1133.8,205.0 1132.5,201.2 1131.9,195.0 1130.0,198.8 1128.8,206.2 1128.1,210.0 1122.5,211.2 1116.2,211.9 1112.5,210.0 1112.5,213.8 1110.0,211.2 1107.5,206.2 1105.0,201.2 1101.2,202.5 1101.2,211.2 1098.8,208.8 1096.2,205.0 1093.8,201.2 1090.0,200.6 1088.1,201.9 1088.1,206.2 1085.0,210.0 1080.0,212.5 1076.9,211.2 1076.2,201.9 1078.8,198.8 1082.5,195.0 1083.8,187.5 1085.0,182.5" fill="#2371ff"/>
<polygon points="1064.4,191.2 1066.9,185.0 1072.5,181.9 1077.5,183.8 1078.8,190.0 1077.5,196.2 1073.8,201.2 1068.8,203.8 1065.6,200.0" fill="#2371ff"/>
<polygon points="1108.3,144.6 1103.3,145.0 1096.7,147.9 1090.0,151.7 1084.2,156.7 1080.8,163.3 1078.3,170.8 1077.5,175.8 1080.0,180.0 1083.3,185.0 1086.7,186.7 1085.8,182.5 1083.3,177.5 1082.5,172.5 1083.8,166.7 1085.8,160.8 1089.2,156.7 1094.2,152.5 1099.2,150.0 1104.2,148.3 1108.3,147.9" fill="#2371ff"/>
<polygon points="1093.5,123.8 1098.8,121.5 1105.0,121.0 1108.5,123.1 1106.2,126.2 1102.5,128.1 1100.0,132.2 1097.5,130.6 1095.0,127.5" fill="#2371ff"/>
<polygon points="1122.5,121.9 1127.5,120.0 1133.8,118.8 1139.4,118.5 1140.6,120.6 1137.5,123.1 1131.2,124.4 1125.6,123.8" fill="#5d625c"/>
<polygon points="1143.8,131.2 1140.0,131.9 1135.0,135.0 1131.9,140.0 1130.6,144.4 1133.1,146.9 1136.2,148.1 1138.8,147.5 1135.6,144.4 1134.4,140.6 1136.9,136.9 1141.2,134.4 1145.0,133.1" fill="#2371ff"/>
<polygon points="1161.9,121.9 1165.6,119.4 1168.8,121.9 1171.2,125.0 1175.6,126.2 1178.8,129.4 1175.0,130.0 1170.0,128.1 1165.0,125.6 1162.5,124.4" fill="#2371ff"/>
<polygon points="1203.1,133.8 1207.5,132.5 1212.5,131.9 1217.5,132.5 1218.1,135.0 1213.8,136.9 1210.0,140.0 1207.5,137.5 1203.8,136.2" fill="#46639f"/>
<polygon points="1244.4,144.4 1247.5,143.8 1248.1,146.2 1245.0,146.9" fill="#5d625c"/>
<polygon points="1221.9,182.5 1223.8,187.5 1225.6,193.8 1226.2,200.0 1225.0,202.5 1223.8,196.2 1222.5,190.0" fill="#2371ff"/>
<polyline points="1236.2,186.2 1232.5,193.8 1227.5,200.0" fill="none" stroke="#5d625c" stroke-width="1.2" stroke-linecap="round"/>
<polygon points="1074.4,222.5 1077.5,217.5 1082.5,214.4 1090.0,212.5 1095.0,213.1 1095.6,217.5 1100.0,220.0 1106.2,221.2 1110.0,220.0 1115.0,221.2 1118.8,221.9 1122.5,230.0 1126.2,237.5 1130.0,245.0 1132.5,250.0 1137.5,251.9 1140.0,252.5 1137.5,253.8 1136.9,258.8 1135.0,263.8 1131.9,268.8 1129.4,273.8 1127.5,278.8 1126.9,285.0 1127.2,290.0 1125.0,295.0 1122.2,300.0 1120.2,306.2 1119.4,313.1 1118.1,319.4 1115.0,323.5 1110.0,326.0 1105.6,326.5 1103.8,322.5 1101.9,316.2 1100.0,310.0 1098.1,302.5 1097.5,295.0 1098.8,288.8 1098.1,282.5 1096.2,276.2 1093.8,270.0 1091.2,264.4 1087.5,261.9 1082.5,263.1 1077.5,264.4 1073.8,261.2 1070.0,255.0 1067.5,247.5 1066.9,242.5 1068.1,235.0 1071.2,228.8" fill="#fbc108"/>
<polygon points="1134.4,290.0 1136.9,290.6 1137.5,295.0 1136.2,301.2 1134.4,307.5 1131.9,311.9 1129.4,310.0 1129.4,303.8 1130.6,297.5 1132.5,292.5" fill="#fbc108"/>
<polygon points="1121.2,214.4 1127.5,211.2 1132.5,208.8 1137.5,205.0 1140.0,198.8 1143.8,200.6 1148.8,201.9 1152.5,204.4 1157.5,203.1 1162.5,202.5 1163.8,205.0 1160.6,211.2 1159.4,217.5 1158.1,223.8 1155.6,229.4 1152.5,231.2 1147.5,230.0 1143.8,227.5 1140.0,223.8 1136.2,221.2 1133.1,223.8 1138.8,230.0 1143.8,233.8 1146.2,236.2 1143.8,241.2 1138.8,245.0 1132.5,248.8 1129.4,249.4 1127.5,243.8 1125.0,237.5 1122.5,231.2 1120.0,225.0 1118.1,220.0" fill="#fbc108"/>
<polygon points="1163.1,201.9 1166.2,198.8 1170.0,195.0 1172.5,192.5 1175.0,196.2 1178.8,200.0 1183.8,203.1 1188.8,204.4 1193.8,202.5 1197.5,199.4 1200.6,195.6 1201.2,191.9 1201.2,186.2 1203.8,183.8 1207.5,185.6 1210.0,190.0 1213.8,192.5 1216.2,195.0 1215.0,198.8 1211.9,201.9 1210.0,205.0 1207.5,206.9 1205.0,210.0 1206.2,213.8 1208.1,218.8 1208.8,223.8 1207.5,228.8 1205.0,232.5 1201.2,236.2 1197.5,238.1 1193.8,236.2 1191.9,235.0 1194.4,239.4 1196.9,244.4 1199.0,249.4 1198.1,254.4 1194.4,257.2 1191.2,255.0 1189.4,250.0 1186.9,246.2 1184.4,241.9 1181.9,239.0 1182.5,245.0 1181.0,248.1 1178.5,243.1 1177.2,237.8 1175.6,235.0 1175.9,239.4 1174.2,243.8 1172.5,247.5 1170.9,251.9 1169.6,256.2 1169.0,261.2 1166.2,258.8 1163.8,253.8 1161.9,247.5 1160.0,241.2 1157.5,237.5 1156.2,233.8 1158.1,228.8 1160.0,222.5 1161.2,216.2 1160.6,210.0 1161.9,205.0" fill="#0b8b80"/>
<polygon points="1171.9,190.6 1176.2,188.8 1181.2,186.2 1182.5,189.4 1187.5,191.2 1193.8,190.0 1198.1,191.9 1200.0,195.6 1196.9,199.4 1193.1,202.2 1188.1,204.0 1183.8,202.8 1178.8,199.8 1175.0,196.0" fill="#fbc108"/>
<polygon points="1210.6,204.8 1213.1,206.9 1214.0,211.9 1212.8,216.2 1211.2,213.8 1211.0,209.4" fill="#0b8b80"/>
<polygon points="1224.4,200.0 1227.5,200.6 1226.5,203.8 1227.0,210.0 1225.0,214.4 1221.2,217.5 1217.5,220.0 1215.0,221.2 1216.9,217.5 1220.6,214.4 1223.1,210.0 1224.4,205.6" fill="#0b8b80"/>
<polygon points="1180.0,250.6 1181.2,257.5 1183.8,263.8 1187.5,270.0 1191.2,276.2 1195.0,280.0 1196.5,277.8 1193.1,272.5 1190.0,266.2 1186.2,261.2 1183.1,255.0 1181.9,250.6" fill="#0b8b80"/>
<polygon points="1196.9,265.6 1200.0,268.1 1203.1,265.0 1206.2,264.4 1207.5,268.1 1206.2,273.8 1203.1,276.9 1199.4,276.2 1197.5,271.9" fill="#0b8b80"/>
<polygon points="1207.5,241.2 1210.6,242.5 1211.2,247.5 1213.1,252.5 1215.0,257.5 1215.6,262.5 1213.1,263.1 1210.0,258.8 1207.5,261.2 1205.6,263.1 1205.0,260.6 1208.1,256.2 1209.4,251.2 1207.5,246.2" fill="#3f7f78"/>
<polygon points="1193.8,280.6 1200.0,282.5 1207.5,283.8 1213.8,284.4 1218.8,283.1 1220.0,285.0 1215.0,286.5 1211.9,288.8 1209.4,286.9 1205.0,285.6 1198.8,284.4" fill="#3f7f78"/>
<polygon points="1208.1,269.4 1211.2,268.1 1213.8,271.2 1212.5,276.2 1210.6,280.0 1208.8,277.5 1209.4,273.1" fill="#3f7f78"/>
<polygon points="1216.2,268.1 1218.8,271.2 1220.0,276.2 1217.5,275.0" fill="#3f7f78"/>
<polygon points="1223.8,273.1 1228.8,274.4 1233.8,276.9 1237.5,281.2 1240.6,285.6 1238.8,286.9 1234.4,284.4 1230.0,283.8 1226.2,281.2 1224.4,277.5" fill="#0b8b80"/>
<polygon points="1238.8,273.1 1243.8,277.5 1248.8,283.8 1251.9,287.5 1250.0,288.1 1245.0,282.5 1240.0,276.2" fill="#5d625c"/>
<polygon points="1255.6,291.9 1257.5,293.8 1258.8,300.0 1258.1,303.1 1256.2,298.8" fill="#5d625c"/>
<polygon points="1252.5,301.9 1255.6,303.8 1256.2,307.5 1253.8,305.6" fill="#5d625c"/>
<polygon points="1266.9,296.9 1270.0,296.2 1268.1,301.2 1266.2,302.5" fill="#5d625c"/>
<polygon points="1200.0,307.5 1201.2,303.8 1205.0,301.9 1210.0,298.8 1213.1,295.0 1215.0,292.5 1218.8,291.9 1220.6,288.8 1223.8,289.4 1225.6,293.1 1228.8,296.2 1230.6,293.8 1231.9,288.1 1233.8,291.2 1235.0,296.2 1236.9,301.2 1239.4,306.2 1241.2,311.2 1241.2,316.2 1240.6,320.0 1238.8,323.8 1236.2,327.5 1233.8,330.0 1230.0,331.9 1226.2,331.2 1223.1,328.8 1221.2,324.4 1217.5,321.2 1212.5,321.9 1207.5,324.4 1203.8,326.9 1201.2,325.0 1200.6,316.2 1200.0,307.5" fill="#0b8b80"/>
<polygon points="1228.1,333.1 1230.6,332.5 1232.5,335.6 1231.9,340.0 1230.0,342.5 1228.1,340.0 1227.5,336.2" fill="#0b8b80"/>
<polygon points="1258.1,325.6 1260.0,326.9 1260.6,330.6 1263.8,331.2 1261.9,334.4 1259.4,336.2 1257.5,338.8 1254.4,341.9 1251.2,345.0 1249.4,348.8 1247.5,347.5 1248.8,343.8 1252.5,340.6 1255.6,336.9 1258.1,333.1 1258.8,329.4" fill="#2f8078"/></g></g>
<g fill="#5d625c"><circle cx="926.5" cy="161.2" r="1.14"/><circle cx="923.8" cy="175.0" r="0.95"/><circle cx="1020.0" cy="220.0" r="0.76"/><circle cx="1054.0" cy="207.8" r="0.76"/><circle cx="1057.8" cy="210.2" r="0.95"/><circle cx="1026.9" cy="356.2" r="1.04"/><circle cx="991.0" cy="271.5" r="1.04"/><circle cx="1061.0" cy="246.5" r="1.23"/><circle cx="1070.6" cy="283.5" r="0.76"/><circle cx="1079.0" cy="296.5" r="0.76"/><circle cx="1150.0" cy="121.2" r="0.95"/><circle cx="1151.2" cy="124.4" r="0.95"/><circle cx="1077.5" cy="145.0" r="1.04"/><circle cx="1101.9" cy="136.9" r="0.85"/><circle cx="1108.8" cy="126.0" r="0.95"/><circle cx="1151.2" cy="121.2" r="0.95"/><circle cx="1150.6" cy="124.4" r="0.85"/><circle cx="1243.8" cy="180.0" r="0.95"/><circle cx="1130.6" cy="290.2" r="0.95"/><circle cx="1143.4" cy="303.8" r="1.23"/><circle cx="1141.9" cy="278.1" r="0.85"/><circle cx="1070.6" cy="283.5" r="0.85"/><circle cx="1079.0" cy="296.5" r="0.85"/><circle cx="1060.6" cy="246.2" r="1.52"/><circle cx="1055.0" cy="208.1" r="0.95"/><circle cx="1058.8" cy="211.2" r="1.23"/><circle cx="1068.1" cy="219.4" r="0.85"/><circle cx="1068.8" cy="226.9" r="1.33"/><circle cx="1060.6" cy="246.2" r="1.52"/><circle cx="1208.4" cy="234.0" r="1.23"/><circle cx="1141.9" cy="278.1" r="0.85"/><circle cx="1142.9" cy="303.8" r="1.23"/><circle cx="1255.6" cy="288.1" r="0.76"/><circle cx="1168.5" cy="260.4" r="1.33"/><circle cx="1265.6" cy="342.5" r="0.85"/><circle cx="1245.6" cy="355.0" r="0.95"/><circle cx="1248.1" cy="358.5" r="0.85"/><circle cx="1236.9" cy="361.9" r="0.85"/><circle cx="1156.0" cy="359.4" r="0.85"/><circle cx="1121.9" cy="347.5" r="0.76"/></g>
</svg></body></html>
